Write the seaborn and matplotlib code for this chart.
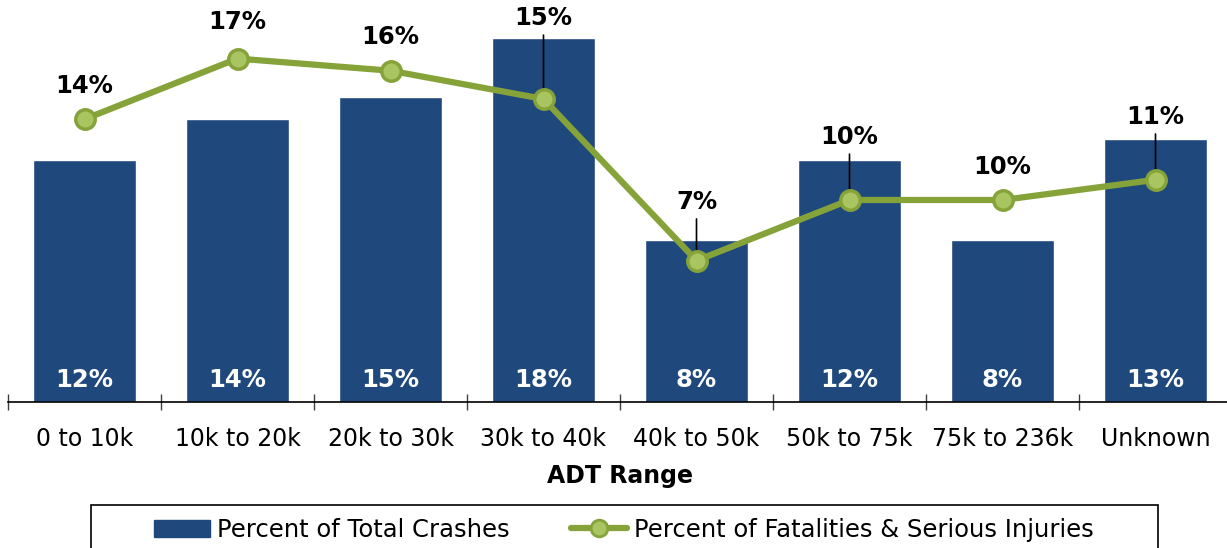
import numpy as np
import matplotlib.pyplot as plt
import matplotlib.patches as mpatches
from matplotlib.lines import Line2D
import pandas as pd
import seaborn as sns

# data
adt_ranges = ['0 to 10k', '10k to 20k', '20k to 30k', '30k to 40k',
              '40k to 50k', '50k to 75k', '75k to 236k', 'Unknown']
pct_crashes = [12, 14, 15.1, 18, 8, 12, 8, 13]
pct_fsi = [14, 17, 16.4, 15, 7, 10, 10, 11]

# label layout for the line values (points above marker, leader line or not)
fsi_label_offset = [24, 26, 24, 58, 42, 45, 24, 45]
fsi_leader = [False, False, False, True, True, True, False, True]

BLUE = '#1F497D'
GREEN = '#86A33A'
LIGHT_GREEN = '#A8C561'

sns.set_style('white')
plt.rcParams['font.family'] = ['DejaVu Sans']
plt.rcParams['text.color'] = 'black'
plt.rcParams['xtick.color'] = 'black'
plt.rcParams['axes.labelcolor'] = 'black'

df = pd.DataFrame({'adt': adt_ranges, 'crashes': pct_crashes, 'fsi': pct_fsi})

fig = plt.figure(figsize=(12.27, 5.48), dpi=100)
ax = fig.add_axes([8 / 1227, 146 / 548, 1224 / 1227, 402 / 548])

sns.barplot(data=df, x='adt', y='crashes', color=BLUE, saturation=1,
            width=0.667, ax=ax, zorder=2)
sns.pointplot(data=df, x='adt', y='fsi', color=GREEN, errorbar=None,
              markers='o', markersize=14, markerfacecolor=LIGHT_GREEN,
              markeredgecolor=GREEN, markeredgewidth=2.5, linewidth=4.5,
              ax=ax, zorder=5)

ax.set_xlim(-0.5, len(adt_ranges) - 0.5)
ax.set_ylim(0, 19.9)
ax.set_yticks([])
ax.set_ylabel('')

# white values inside bars
for i, v in enumerate(pct_crashes):
    ax.annotate(f'{round(v)}%', (i, 0), xytext=(0, 16), textcoords='offset points',
                ha='center', va='center', color='white', fontsize=17.5,
                fontweight='bold', zorder=6)

# line values with optional leader lines
for i, v in enumerate(pct_fsi):
    off = fsi_label_offset[i]
    ax.annotate(f'{round(v)}%', (i, v), xytext=(0, off), textcoords='offset points',
                ha='center', va='center', color='black', fontsize=17.5,
                fontweight='bold', zorder=7)
    if fsi_leader[i]:
        ax.annotate('', (i, v), xytext=(0, off - 12), textcoords='offset points',
                    arrowprops=dict(arrowstyle='-', color='black', lw=1.2,
                                    shrinkA=0, shrinkB=0), zorder=4)

for s in ['top', 'right', 'left']:
    ax.spines[s].set_visible(False)
ax.spines['bottom'].set_color('black')
ax.spines['bottom'].set_linewidth(1.2)

ax.set_xticks(np.arange(-0.5, len(adt_ranges)), minor=True)
ax.tick_params(axis='x', which='major', length=0, pad=18, labelsize=17)
ax.tick_params(axis='x', which='minor', direction='inout', length=11,
               width=1, color='#404040', bottom=True)
ax.set_xlabel('ADT Range', fontsize=17, fontweight='bold', labelpad=9)

# legend
handles = [mpatches.Patch(color=BLUE),
           Line2D([], [], color=GREEN, lw=4.5, marker='o', markersize=12,
                  markerfacecolor=LIGHT_GREEN, markeredgecolor=GREEN,
                  markeredgewidth=2)]
fig.legend(handles, ['Percent of Total Crashes',
                     'Percent of Fatalities & Serious Injuries'],
           loc='upper center', bbox_to_anchor=(624 / 1227, 1 - 496 / 548),
           ncol=2, frameon=False, fontsize=17.5, handlelength=2.3,
           handletextpad=0.3, columnspacing=2.5)
fig.add_artist(mpatches.Rectangle((91 / 1227, -0.05), (1158 - 91) / 1227,
                                  0.05 + 43 / 548, transform=fig.transFigure,
                                  fill=False, edgecolor='black', lw=1.2))

plt.savefig('out.png', dpi=100)
